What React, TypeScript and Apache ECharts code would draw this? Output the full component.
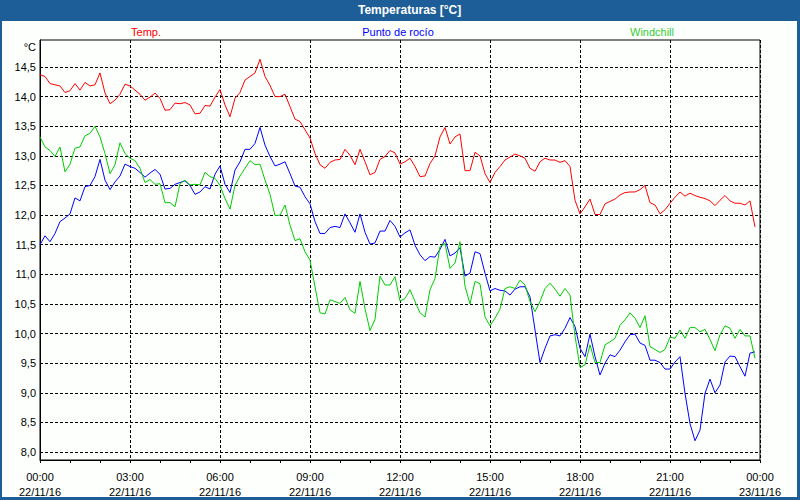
import React, { useEffect, useRef } from "react";
import * as echarts from "echarts";

// sampling step of the station data, minutes
const stepMinutes = 10;

const tempValues = [
  14.37, 14.34, 14.22, 14.2, 14.18, 14.07, 14.1, 14.22, 14.11, 14.24, 14.18, 14.2, 14.4, 14.06, 13.88, 13.94,
  14.04, 14.21, 14.18, 14.11, 14.04, 13.94, 13.99, 14.06, 13.97, 13.77, 13.78, 13.89, 13.88, 13.9, 13.86, 13.71,
  13.72, 13.85, 13.84, 13.99, 14.12, 13.86, 13.66, 13.97, 14.07, 14.28, 14.34, 14.4, 14.63, 14.34, 14.19, 14.0,
  14.0, 14.04, 13.83, 13.62, 13.58, 13.44, 13.3, 13.04, 12.85, 12.79, 12.89, 12.93, 12.94, 13.11, 13.01, 12.85,
  13.11, 12.9, 12.68, 12.72, 12.94, 12.99, 13.09, 13.05, 12.86, 12.9, 12.96, 12.82, 12.65, 12.66, 12.87, 13.0,
  13.32, 13.48, 13.2, 13.32, 13.37, 12.75, 12.75, 13.06, 13.0, 12.7, 12.55, 12.72, 12.82, 12.93, 12.98, 13.03,
  13.0, 12.96, 12.79, 12.74, 12.9, 12.96, 12.93, 12.93, 12.89, 12.92, 12.82, 12.25, 12.02, 12.14, 12.27, 12.01,
  12.01, 12.19, 12.23, 12.27, 12.34, 12.38, 12.39, 12.39, 12.43, 12.5, 12.21, 12.17, 12.02, 12.09, 12.2, 12.3,
  12.39, 12.32, 12.37, 12.33, 12.3, 12.28, 12.24, 12.16, 12.25, 12.33, 12.24, 12.2, 12.2, 12.17, 12.24, 11.8,
];

const dewValues = [
  11.5, 11.65, 11.55, 11.69, 11.89, 11.95, 12.02, 12.29, 12.24, 12.48, 12.5, 12.65, 12.94, 12.59, 12.43, 12.56,
  12.66, 12.86, 12.82, 12.79, 12.72, 12.64, 12.71, 12.77, 12.69, 12.44, 12.45, 12.52, 12.55, 12.58, 12.5, 12.35,
  12.39, 12.48, 12.44, 12.69, 12.83, 12.52, 12.38, 12.76, 12.9, 13.11, 13.11, 13.21, 13.48, 13.18, 12.99, 12.83,
  12.86, 12.9, 12.7, 12.49, 12.47, 12.31, 12.19, 11.89, 11.69, 11.69, 11.79, 11.81, 11.79, 12.02, 11.87, 11.71,
  12.02, 11.71, 11.51, 11.53, 11.73, 11.73, 11.91, 11.81, 11.63, 11.7, 11.75, 11.49, 11.33, 11.23, 11.3, 11.29,
  11.42, 11.59, 11.31, 11.36, 11.45, 10.97, 11.02, 11.38, 11.35, 11.02, 10.72, 10.76, 10.73, 10.72, 10.65, 10.75,
  10.79, 10.79, 10.62, 10.06, 9.51, 9.75, 9.96, 9.98, 9.96, 10.09, 10.27, 10.12, 9.75, 9.61, 9.99, 9.61,
  9.3, 9.5, 9.64, 9.61, 9.72, 9.86, 9.98, 9.99, 9.84, 9.8, 9.55, 9.55, 9.51, 9.4, 9.4, 9.52,
  9.61, 8.99, 8.48, 8.19, 8.37, 8.99, 9.23, 9.0, 9.13, 9.52, 9.62, 9.61, 9.44, 9.28, 9.67, 9.69,
];

const chillValues = [
  13.32, 13.15, 13.09, 12.99, 13.15, 12.73, 12.86, 13.13, 13.15, 13.34, 13.38, 13.5, 13.32, 13.04, 12.7, 12.85,
  13.22, 13.04, 12.96, 12.92, 12.79, 12.55, 12.6, 12.52, 12.53, 12.21, 12.21, 12.14, 12.53, 12.59, 12.51, 12.52,
  12.51, 12.72, 12.65, 12.62, 12.5, 12.28, 12.1, 12.5, 12.66, 12.79, 12.92, 12.85, 12.86, 12.59, 12.35, 11.99,
  12.0, 12.17, 11.83, 11.57, 11.6, 11.38, 11.24, 10.79, 10.35, 10.33, 10.57, 10.54, 10.51, 10.61, 10.4, 10.34,
  10.88, 10.42, 10.05, 10.24, 10.97, 10.82, 10.82, 10.96, 10.55, 10.59, 10.74, 10.54, 10.35, 10.28, 10.74, 10.93,
  11.47, 11.52, 11.1, 11.19, 11.55, 10.8, 10.5, 10.88, 10.84, 10.28, 10.13, 10.26, 10.41, 10.76, 10.79, 10.76,
  10.9, 10.82, 10.54, 10.37, 10.54, 10.76, 10.85, 10.75, 10.63, 10.76, 10.65, 9.96, 9.43, 9.47, 9.81, 9.51,
  9.51, 9.81, 9.86, 9.92, 10.14, 10.23, 10.35, 10.26, 10.1, 10.3, 9.78, 9.73, 9.68, 9.73, 9.94, 9.92,
  10.06, 9.92, 10.1, 10.1, 10.03, 10.07, 9.9, 9.71, 9.98, 10.13, 10.09, 9.92, 10.07, 9.96, 9.96, 9.58,
];

const seriesNames = ["Temp.", "Punto de rocío", "Windchill"];
const seriesColors = ["#ff0000", "#0000ff", "#00cc00"];

const yTickValues = [8.0, 8.5, 9.0, 9.5, 10.0, 10.5, 11.0, 11.5, 12.0, 12.5, 13.0, 13.5, 14.0, 14.5];
const xTickTimes = ["00:00", "03:00", "06:00", "09:00", "12:00", "15:00", "18:00", "21:00", "00:00"];
const xTickDates = ["22/11/16", "22/11/16", "22/11/16", "22/11/16", "22/11/16", "22/11/16", "22/11/16", "22/11/16", "23/11/16"];

const FONT = "Liberation Sans, Arial, sans-serif";

function toPairs(values: number[]) {
  return values.map((v, i) => [i * stepMinutes, v]);
}

export default function App() {
  const ref = useRef<HTMLDivElement>(null);

  useEffect(() => {
    if (!ref.current) return;
    const chart = echarts.init(ref.current, undefined, { renderer: "svg" });
    const blue = "#1d5e98";
    const option: any = {
      animation: false,
      backgroundColor: "#fdfffd",
      textStyle: { fontFamily: FONT },
      grid: {
        left: 40,
        top: 40,
        right: 40,
        bottom: 40,
        show: true,
        borderColor: "#000",
        borderWidth: 1,
        backgroundColor: "transparent",
      },
      xAxis: {
        type: "value",
        min: 0,
        max: 1440,
        interval: 180,
        axisLine: { show: true, lineStyle: { color: "#000", width: 1 } },
        axisTick: { show: true, length: 3, inside: false, lineStyle: { color: "#000" } },
        minorTick: { show: true, splitNumber: 3, length: 3, lineStyle: { color: "#000" } },
        splitLine: { show: true, lineStyle: { color: "#000", type: [3, 2], width: 1 } },
        minorSplitLine: { show: false },
        axisLabel: {
          show: true,
          margin: 9,
          color: "#000",
          fontSize: 11,
          fontFamily: FONT,
          lineHeight: 15,
          showMinLabel: true,
          showMaxLabel: true,
          formatter: (v: number) => {
            const idx = Math.round(v / 180);
            return `${xTickTimes[idx]}\n${xTickDates[idx]}`;
          },
        },
      },
      yAxis: {
        type: "value",
        min: 7.865,
        max: 14.956,
        axisLine: { show: true, lineStyle: { color: "#000", width: 1 } },
        axisTick: { show: false, customValues: yTickValues },
        splitLine: { show: true, lineStyle: { color: "#000", type: [3, 2], width: 1 } },
        axisLabel: {
          show: true,
          customValues: yTickValues,
          margin: 4,
          color: "#000",
          fontSize: 11,
          fontFamily: FONT,
          formatter: (v: number) => v.toFixed(1).replace(".", ","),
        },
      },
      graphic: [
        { type: "rect", shape: { x: 0, y: 0, width: 800, height: 21 }, style: { fill: blue }, silent: true },
        { type: "rect", shape: { x: 0, y: 0, width: 2, height: 500 }, style: { fill: blue }, silent: true },
        { type: "rect", shape: { x: 797, y: 0, width: 3, height: 500 }, style: { fill: blue }, silent: true },
        { type: "rect", shape: { x: 0, y: 497, width: 800, height: 3 }, style: { fill: blue }, silent: true },
        {
          type: "text",
          x: 358,
          y: 10,
          style: {
            text: "Temperaturas [°C]",
            fill: "#ffffff",
            font: `bold 12px ${FONT}`,
            textAlign: "left",
            textVerticalAlign: "middle",
          },
          silent: true,
        },
        {
          type: "text",
          x: 146,
          y: 32,
          style: { text: seriesNames[0], fill: seriesColors[0], font: `11px ${FONT}`, textAlign: "center", textVerticalAlign: "middle" },
          silent: true,
        },
        {
          type: "text",
          x: 398,
          y: 32,
          style: { text: seriesNames[1], fill: seriesColors[1], font: `11px ${FONT}`, textAlign: "center", textVerticalAlign: "middle" },
          silent: true,
        },
        {
          type: "text",
          x: 652,
          y: 32,
          style: { text: seriesNames[2], fill: "#33cc33", font: `11px ${FONT}`, textAlign: "center", textVerticalAlign: "middle" },
          silent: true,
        },
        {
          type: "text",
          x: 36,
          y: 47,
          style: { text: "°C", fill: "#000", font: `11px ${FONT}`, textAlign: "right", textVerticalAlign: "middle" },
          silent: true,
        },
      ],
      series: [
        { name: seriesNames[0], data: toPairs(tempValues), color: seriesColors[0] },
        { name: seriesNames[1], data: toPairs(dewValues), color: seriesColors[1] },
        { name: seriesNames[2], data: toPairs(chillValues), color: seriesColors[2] },
      ].map((s) => ({
        type: "line",
        name: s.name,
        data: s.data,
        showSymbol: false,
        symbol: "none",
        smooth: false,
        silent: true,
        clip: true,
        lineStyle: { color: s.color, width: 1 },
        itemStyle: { color: s.color },
        emphasis: { disabled: true },
      })),
    };
    chart.setOption(option);
    return () => chart.dispose();
  }, []);

  return (
    <div
      ref={ref}
      style={{ position: "fixed", left: 0, top: 0, width: 800, height: 500 }}
    />
  );
}
